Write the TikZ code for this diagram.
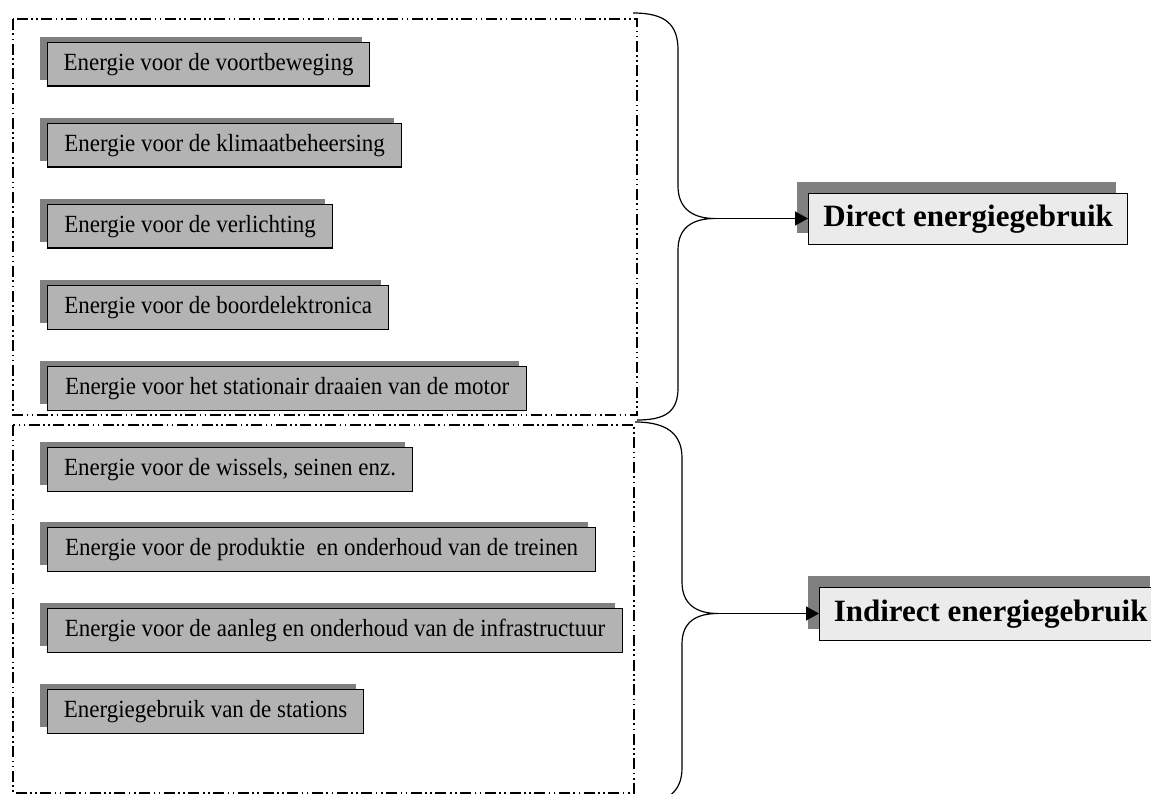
\documentclass[tikz,border=0pt]{standalone}
\usepackage{fontspec}
\setmainfont{Liberation Serif}
\newfontfamily\itemfont[FakeStretch=0.93]{Liberation Serif}
\usetikzlibrary{shadows,arrows.meta}
\definecolor{boxgray}{HTML}{B3B3B3}
\definecolor{shgray}{HTML}{808080}
\definecolor{lightbox}{HTML}{EBEBEB}
\begin{document}
\begin{tikzpicture}[x=1pt,y=-1pt,
  item/.style={draw=black, line width=1.2pt, fill=boxgray, anchor=north west,
    inner sep=0pt, minimum height=43.5pt, font=\itemfont\fontsize{24.7}{28}\selectfont,
    general shadow={shadow xshift=-8pt, shadow yshift=6pt, fill=shgray}},
  result/.style={draw=black, line width=1.3pt, fill=lightbox, anchor=north west,
    inner sep=0pt, font=\bfseries\fontsize{31}{36}\selectfont,
    general shadow={shadow xshift=-12pt, shadow yshift=12pt, fill=shgray}},
  frame/.style={line width=1.3pt, dash pattern=on 11pt off 3.5pt on 1.6pt off 3.5pt on 1.6pt off 3.5pt},
  brace/.style={line width=1.2pt},
  conn/.style={line width=1.3pt, -{Triangle[length=13pt,width=14pt]}}]
\clip (0,0) rectangle (1151,794);
\fill[white] (0,0) rectangle (1151,794);
% frames
\draw[frame] (13,19) rectangle (637,415);
\draw[frame] (13,425) rectangle (634,793);
% items
\node[item, minimum width=322pt] (i1) at (47,42) {Energie voor de voortbeweging};
\node[item, minimum width=354pt] (i2) at (47,123) {Energie voor de klimaatbeheersing};
\node[item, minimum width=285pt] (i3) at (47,204) {Energie voor de verlichting};
\node[item, minimum width=341pt] (i4) at (47,285) {Energie voor de boordelektronica};
\node[item, minimum width=479pt] (i5) at (47,366) {Energie voor het stationair draaien van de motor};
\node[item, minimum width=365pt] (i6) at (47,447) {Energie voor de wissels, seinen enz.};
\node[item, minimum width=548pt] (i7) at (47,527) {Energie voor de produktie\ \ en onderhoud van de treinen};
\node[item, minimum width=575pt] (i8) at (47,608) {Energie voor de aanleg en onderhoud van de infrastructuur};
\node[item, minimum width=316pt] (i9) at (47,689) {Energiegebruik van de stations};
% result boxes
\node[result, minimum width=319pt, minimum height=51pt] (direct) at (808,193) {Direct energiegebruik};
\node[result, minimum width=342pt, minimum height=53pt] (indirect) at (819,587) {Indirect energiegebruik};
% braces
\coordinate (t1) at (715,218.5);
\coordinate (t2) at (718,613.5);
\draw[brace] (633,13) .. controls (665,13) and (678,24) .. (678,50) -- (678,186)
  .. controls (678,208) and (692,218.5) .. (t1)
  .. controls (692,218.5) and (678,228) .. (678,250) -- (678,388)
  .. controls (678,412) and (665,420) .. (637,420);
\draw[brace] (635,422) .. controls (667,422) and (682,434) .. (682,458) -- (682,582)
  .. controls (682,604) and (696,613.5) .. (t2)
  .. controls (696,613.5) and (682,622) .. (682,644) -- (682,768)
  .. controls (682,792) and (667,804) .. (635,804);
% arrows
\draw[conn] (t1) -- (t1 -| direct.west);
\draw[conn] (t2) -- (t2 -| indirect.west);
\end{tikzpicture}
\end{document}
